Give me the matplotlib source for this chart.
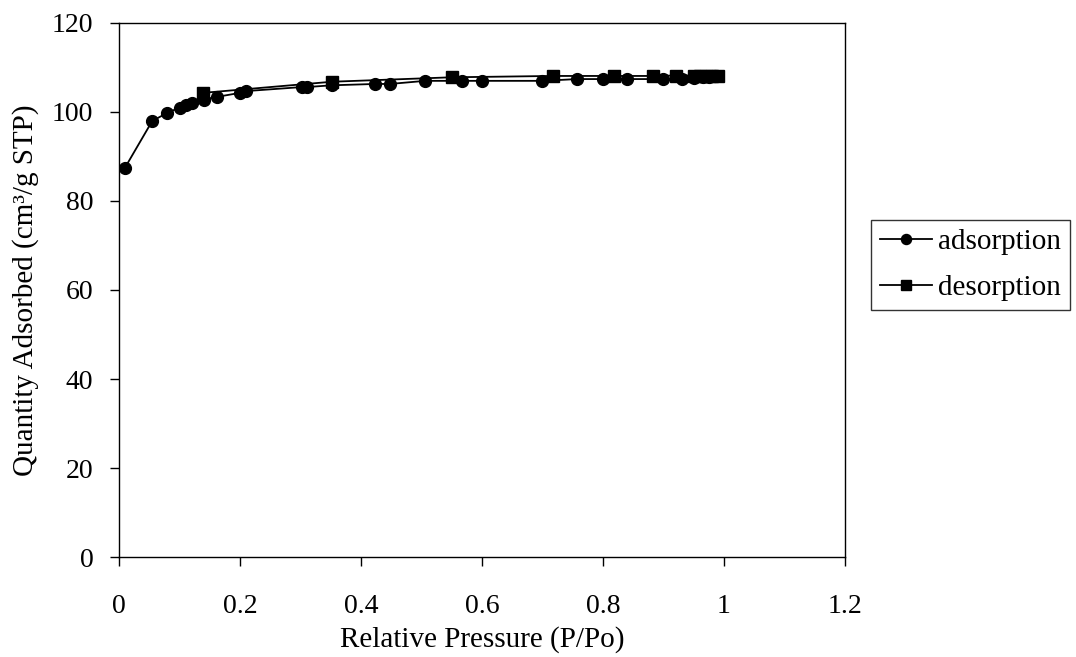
import matplotlib
matplotlib.use("Agg")
import matplotlib.pyplot as plt

# adsorption branch
ads_p = [0.01, 0.055, 0.08, 0.10, 0.11, 0.12, 0.14, 0.162, 0.20, 0.21, 0.302, 0.31,
         0.352, 0.423, 0.448, 0.506, 0.567, 0.60, 0.70, 0.757, 0.80, 0.84, 0.90,
         0.93, 0.95, 0.965, 0.975, 0.985]
ads_q = [87.5, 98.0, 99.8, 101.0, 101.5, 102.0, 102.8, 103.4, 104.3, 104.7, 105.6, 105.6,
         106.0, 106.3, 106.3, 107.0, 107.0, 107.0, 107.0, 107.4, 107.4, 107.4, 107.4,
         107.5, 107.7, 107.8, 107.9, 108.0]

# desorption branch
des_p = [0.99, 0.98, 0.97, 0.96, 0.95, 0.92, 0.883, 0.818, 0.717, 0.55, 0.352, 0.139]
des_q = [108.2, 108.2, 108.2, 108.2, 108.2, 108.2, 108.1, 108.1, 108.1, 107.8, 106.8, 104.3]

plt.rcParams['font.family'] = ['Liberation Serif', 'DejaVu Serif']

fig = plt.figure(figsize=(10.76, 6.57), dpi=100)
ax = fig.add_axes([0.1106, 0.1522, 0.6747, 0.8128])

ax.plot(ads_p, ads_q, color='black', marker='o', markersize=8.5, linewidth=1.3, label='adsorption')
ax.plot(des_p, des_q, color='black', marker='s', markersize=8, linewidth=1.3, label='desorption')

ax.set_xlim(0, 1.2)
ax.set_ylim(0, 120)
ax.set_xticks([0, 0.2, 0.4, 0.6, 0.8, 1, 1.2])
ax.set_xticklabels(['0', '0.2', '0.4', '0.6', '0.8', '1', '1.2'])
ax.set_yticks([0, 20, 40, 60, 80, 100, 120])
ax.tick_params(direction='out', length=6.5, width=1, labelsize=20)
ax.tick_params(axis='x', pad=20)
ax.tick_params(axis='y', pad=12)
for s in ax.spines.values():
    s.set_linewidth(1)

ax.set_xlabel('Relative Pressure (P/Po)', fontsize=21, labelpad=5)
ax.set_ylabel('Quantity Adsorbed (cm³/g STP)', fontsize=21, labelpad=9)

leg = ax.legend(loc='center left', bbox_to_anchor=(1.036, 0.547), fontsize=21, frameon=True,
                fancybox=False, edgecolor='black', handlelength=1.8, handletextpad=0.2,
                borderpad=0.3, labelspacing=0.65, borderaxespad=0, markerscale=0.85)
leg.get_frame().set_linewidth(1)

fig.savefig('out.png', dpi=100)
